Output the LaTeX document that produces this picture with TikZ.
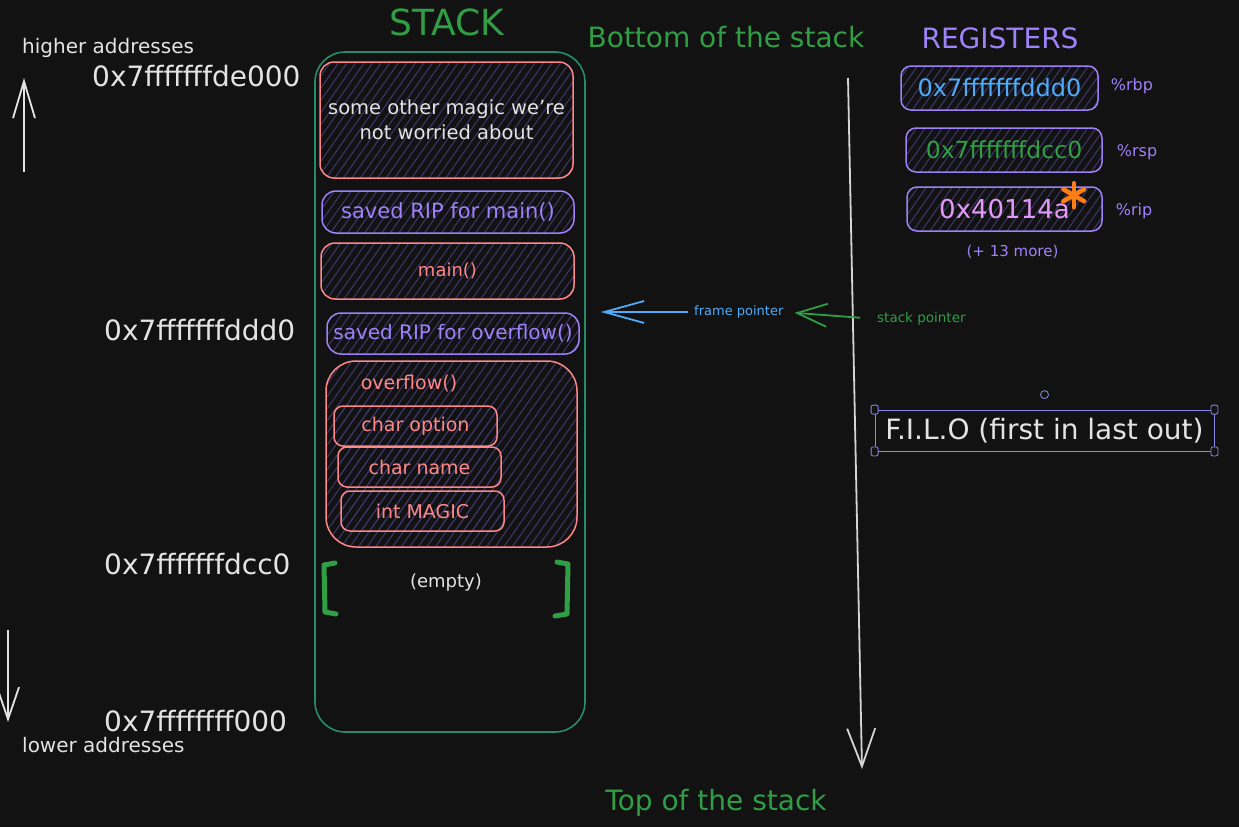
\documentclass[tikz,border=0pt]{standalone}
\usepackage{fontspec}
\setmainfont{DejaVu Sans}
\usetikzlibrary{positioning, arrows.meta, patterns.meta}

\definecolor{bgdark}{HTML}{121212}
\definecolor{chalk}{HTML}{E3E3E3}
\definecolor{stackgreen}{HTML}{2F9E44}
\definecolor{stackedge}{HTML}{268C6A}
\definecolor{framered}{HTML}{FF8787}
\definecolor{regpurple}{HTML}{9D82FA}
\definecolor{ptrblue}{HTML}{4DABF7}
\definecolor{ripink}{HTML}{E599F7}
\definecolor{sparkorange}{HTML}{FD7E14}
\definecolor{hatch}{HTML}{3A3566}
\definecolor{selectblue}{HTML}{8B86E8}

\tikzset{
	fs/.style={font=\fontsize{#1}{#1}\selectfont},
	hexlabel/.style={text=chalk, fs=28, anchor=west, inner sep=0pt},
	slot/.style={draw, rounded corners=14pt, line width=1.5pt, inner sep=0pt,
		pattern={Lines[angle=55,distance=7pt,line width=1.1pt]}, pattern color=hatch},
	redslot/.style={slot, draw=framered, text=framered},
	ripslot/.style={slot, draw=regpurple, text=regpurple},
	varslot/.style={redslot, rounded corners=9pt, minimum width=163pt, minimum height=40pt, fs=19},
	regslot/.style={slot, draw=regpurple, rounded corners=10pt, minimum width=196pt, minimum height=44pt},
	barb/.style={line width=1.8pt, -{Straight Barb[length=#1, width=22pt, line width=1.8pt]}},
	handlebox/.style={draw=selectblue, fill=bgdark, rounded corners=2pt, minimum width=7pt, minimum height=9pt, inner sep=0pt, line width=0.8pt},
}

\begin{document}
\begin{tikzpicture}[x=1pt, y=-1pt]
	\fill[bgdark] (0,0) rectangle (1239,827);
	\useasboundingbox (0,0) rectangle (1239,827);

	% titles
	\node[text=stackgreen, fs=36] (stacktitle) at (447,22) {STACK};
	\node[text=stackgreen, fs=28] (bottomtitle) at (726,37) {Bottom of the stack};
	\node[text=stackgreen, fs=28] (toptitle) at (716,803) {Top of the stack};

	% address side
	\node[text=chalk, fs=20, anchor=west, inner sep=0pt] (higher) at (22,48) {higher addresses};
	\node[text=chalk, fs=20, anchor=west, inner sep=0pt] (lower) at (22,745) {lower addresses};
	\node[hexlabel] (addrtop) at (92,76) {0x7fffffffde000};
	\node[hexlabel] (addrrbp) at (104,330) {0x7fffffffddd0};
	\node[hexlabel] (addrrsp) at (104,564) {0x7fffffffdcc0};
	\node[hexlabel] (addrend) at (104,721) {0x7ffffffff000};

	\coordinate (upfrom) at (24,172);
	\coordinate (upto) at (24,78);
	\coordinate (downfrom) at (8,630);
	\coordinate (downto) at (8,722);
	\draw[chalk, barb=37pt] (upfrom) -- (upto);
	\draw[chalk, barb=32pt] (downfrom) -- (downto);

	% the stack
	\node[draw=stackedge, line width=1.6pt, rounded corners=30pt, minimum width=270pt, minimum height=680pt] (stack) at (450,392) {};
	\node[redslot, text=chalk, minimum width=253pt, minimum height=116pt, align=center, font=\fontsize{19.5}{25}\selectfont] (othermagic) at (446.5,120) {some other magic we're\\not worried about};
	\node[ripslot, minimum width=252pt, minimum height=42pt, fs=21] (ripmain) at (448,212) {saved RIP for main()};
	\node[redslot, minimum width=253pt, minimum height=56pt, fs=18] (mainframe) at (447.5,271) {main()};
	\node[ripslot, minimum width=252pt, minimum height=41pt, fs=20] (ripoverflow) at (453,333.5) {saved RIP for overflow()};
	\node[redslot, rounded corners=30pt, minimum width=251pt, minimum height=186pt] (overflowframe) at (451.5,454) {};
	\node[text=framered, fs=19] (overflowlabel) at (409,384) {overflow()};
	\node[varslot] (charoption) at (415.5,426) {char option};
	\node[varslot] (charname) at (419.5,467) {char name};
	\node[varslot] (intmagic) at (422.5,511) {int MAGIC};

	\node[text=chalk, fs=18] (empty) at (446,583) {(empty)};
	\draw[stackgreen, line width=5pt, line cap=round, line join=round] (335,563) -- (324,565) -- (325,612) -- (336,614);
	\draw[stackgreen, line width=5pt, line cap=round, line join=round] (557,562) -- (568,564) -- (567,614) -- (555,616);

	% growth direction
	\coordinate (bigtop) at (848,78);
	\coordinate (bigbot) at (862,769);
	\draw[chalk!85!gray, line width=1.8pt, -{Straight Barb[length=38pt, width=28pt, line width=1.8pt]}] (bigtop) -- (bigbot);

	% pointers
	\node[text=ptrblue, fs=13, anchor=west, inner sep=0pt] (fp) at (694,312) {frame pointer};
	\node[text=stackgreen, fs=13.5, anchor=west, inner sep=0pt] (sp) at (877,319) {stack pointer};
	\draw[ptrblue, barb=40pt, line width=2.2pt, shorten <=6pt] (fp.west) -- ([xshift=15pt]fp.west -| stack.east);
	\draw[stackgreen, line width=1.8pt, -{Straight Barb[length=30pt, width=23pt, line width=1.8pt]}, shorten <=17pt, shorten >=11pt] (sp.west) -- (fp.east);

	% registers
	\node[text=regpurple, fs=28] (regtitle) at (1000,38) {REGISTERS};
	\node[regslot, minimum width=197pt, text=ptrblue, fs=24] (rbpbox) at (999.5,88) {0x7fffffffddd0};
	\node[regslot, text=stackgreen, fs=23.5] (rspbox) at (1004,150) {0x7fffffffdcc0};
	\node[regslot, minimum width=195pt, text=ripink, fs=26] (ripbox) at (1004.5,209) {0x40114a};
	\node[text=regpurple, fs=16, right=12pt of rbpbox, inner sep=0pt, yshift=2pt] (rbpname) {\%rbp};
	\node[text=regpurple, fs=16, right=14pt of rspbox, inner sep=0pt, yshift=-2pt] (rspname) {\%rsp};
	\node[text=regpurple, fs=16, right=13pt of ripbox, inner sep=0pt, yshift=-2pt] (ripname) {\%rip};
	\node[text=regpurple, fs=15, below=13pt of ripbox, xshift=8pt, inner sep=0pt] (moreregs) {(+ 13 more)};
	\coordinate (spark) at ([xshift=-29pt, yshift=-9pt]ripbox.north east);
	\foreach \a in {90,30,-30}
		\draw[sparkorange, line width=4.5pt, line cap=round] (spark) ++(\a:12) -- ++(\a+180:24);

	% note
	\node[draw=selectblue, line width=0.8pt, minimum width=339pt, minimum height=41pt, inner sep=0pt, text=chalk, fs=28] (filo) at (1044.5,430.5) {F.I.L.O (first in last out)};
	\foreach \c in {north west, north east, south west, south east}
		\node[handlebox] at (filo.\c) {};
	\node[circle, draw=selectblue, line width=0.8pt, minimum size=8pt, inner sep=0pt] (rotate) at ([yshift=15pt]filo.north) {};
\end{tikzpicture}
\end{document}
